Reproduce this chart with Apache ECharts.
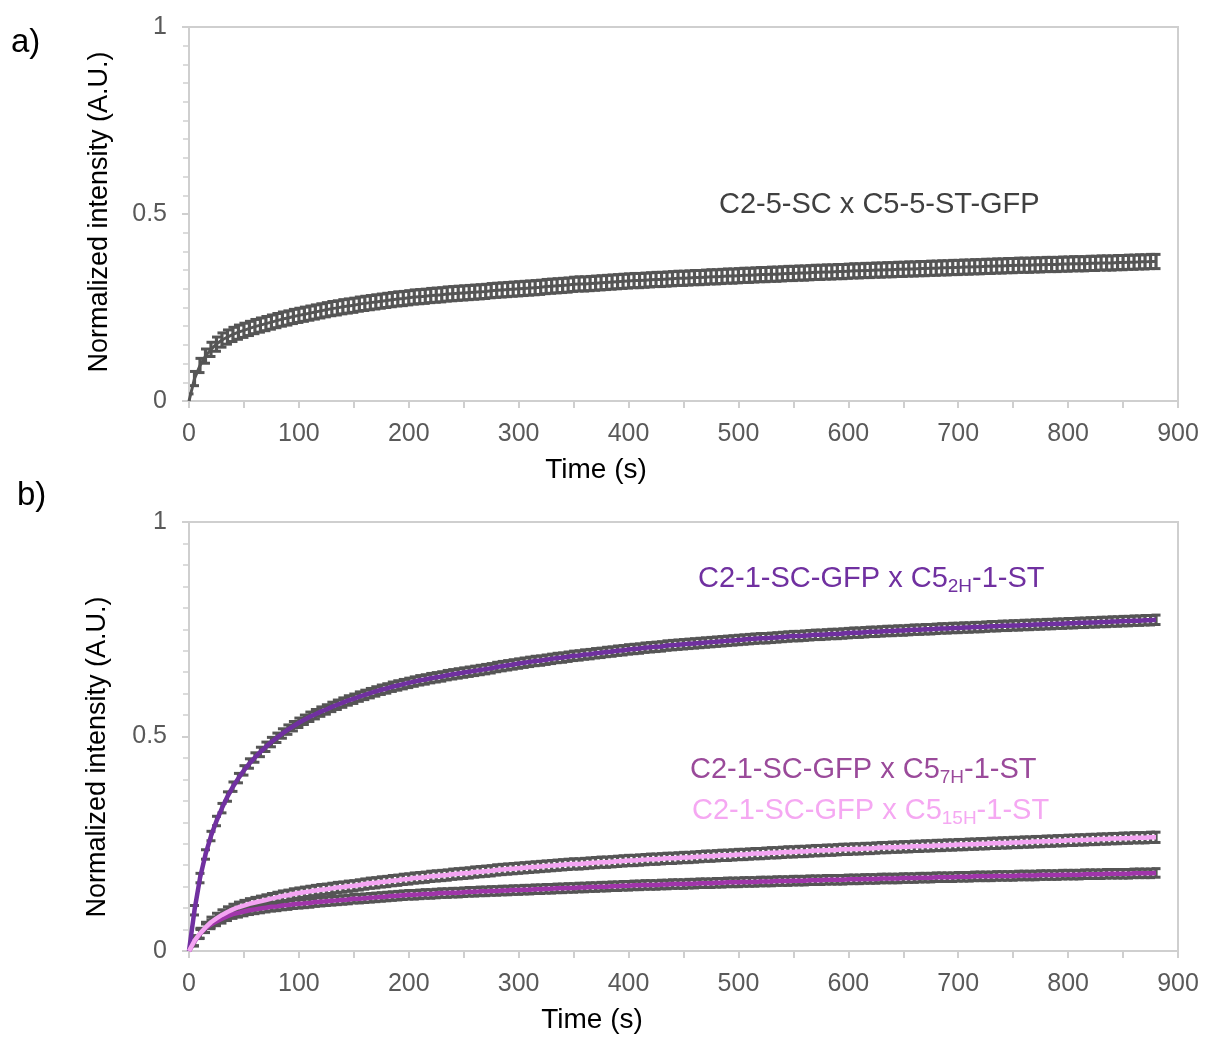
<!DOCTYPE html>
<html>
<head>
<meta charset="utf-8">
<script src="https://cdn.jsdelivr.net/npm/echarts@6/dist/echarts.min.js"></script>
<style>
html,body{margin:0;padding:0;background:#fff;}
#chart{width:1205px;height:1037px;}
</style>
</head>
<body>
<div id="chart"></div>
<script>
// Time points (s)
const timeS = [
  0,5,10,15,20,25,30,35,40,45,
  50,55,60,65,70,75,80,85,90,95,
  100,105,110,115,120,125,130,135,140,145,
  150,155,160,165,170,175,180,185,190,195,
  200,205,210,215,220,225,230,235,240,245,
  250,255,260,265,270,275,280,285,290,295,
  300,305,310,315,320,325,330,335,340,345,
  350,355,360,365,370,375,380,385,390,395,
  400,405,410,415,420,425,430,435,440,445,
  450,455,460,465,470,475,480,485,490,495,
  500,505,510,515,520,525,530,535,540,545,
  550,555,560,565,570,575,580,585,590,595,
  600,605,610,615,620,625,630,635,640,645,
  650,655,660,665,670,675,680,685,690,695,
  700,705,710,715,720,725,730,735,740,745,
  750,755,760,765,770,775,780,785,790,795,
  800,805,810,815,820,825,830,835,840,845,
  850,855,860,865,870,875,880
];

// a) C2-5-SC x C5-5-ST-GFP
const seriesA = [
  0,0.060,0.095,0.120,0.138,0.152,0.163,0.171,0.178,0.184,
  0.189,0.194,0.199,0.203,0.207,0.211,0.215,0.219,0.222,0.226,
  0.229,0.232,0.235,0.238,0.241,0.244,0.247,0.249,0.252,0.254,
  0.256,0.259,0.261,0.263,0.265,0.267,0.269,0.271,0.273,0.274,
  0.276,0.278,0.279,0.280,0.282,0.283,0.284,0.286,0.287,0.288,
  0.289,0.290,0.291,0.292,0.293,0.295,0.296,0.297,0.298,0.299,
  0.300,0.301,0.302,0.303,0.304,0.306,0.307,0.308,0.309,0.310,
  0.312,0.313,0.313,0.314,0.315,0.316,0.317,0.318,0.319,0.320,
  0.321,0.322,0.322,0.323,0.324,0.325,0.325,0.326,0.327,0.328,
  0.328,0.329,0.330,0.330,0.331,0.332,0.332,0.333,0.334,0.334,
  0.335,0.336,0.336,0.337,0.338,0.338,0.339,0.339,0.340,0.341,
  0.341,0.342,0.342,0.343,0.344,0.344,0.345,0.345,0.346,0.346,
  0.347,0.348,0.348,0.349,0.349,0.350,0.350,0.351,0.351,0.352,
  0.352,0.353,0.353,0.354,0.354,0.355,0.355,0.356,0.356,0.357,
  0.357,0.358,0.358,0.359,0.359,0.360,0.360,0.361,0.361,0.362,
  0.362,0.363,0.363,0.363,0.364,0.364,0.365,0.365,0.365,0.366,
  0.366,0.367,0.367,0.367,0.368,0.368,0.369,0.369,0.369,0.370,
  0.370,0.371,0.371,0.372,0.372,0.373,0.373
];
const errA = 0.019;

// b) C2-1-SC-GFP x C5_2H-1-ST
const series2H = [
  0,0.095,0.170,0.225,0.268,0.303,0.333,0.360,0.383,0.403,
  0.421,0.437,0.451,0.464,0.476,0.487,0.497,0.507,0.516,0.524,
  0.532,0.539,0.546,0.552,0.558,0.563,0.569,0.574,0.579,0.584,
  0.588,0.593,0.597,0.601,0.605,0.609,0.612,0.616,0.619,0.622,
  0.625,0.628,0.631,0.633,0.636,0.638,0.640,0.643,0.645,0.647,
  0.649,0.651,0.653,0.655,0.657,0.659,0.662,0.664,0.666,0.668,
  0.670,0.672,0.674,0.676,0.677,0.679,0.681,0.683,0.684,0.686,
  0.688,0.689,0.691,0.692,0.694,0.695,0.697,0.698,0.700,0.701,
  0.703,0.704,0.705,0.707,0.708,0.709,0.710,0.712,0.713,0.714,
  0.715,0.716,0.717,0.718,0.719,0.720,0.721,0.722,0.723,0.724,
  0.725,0.726,0.727,0.728,0.729,0.729,0.730,0.731,0.732,0.733,
  0.734,0.734,0.735,0.736,0.737,0.737,0.738,0.739,0.739,0.740,
  0.741,0.742,0.742,0.743,0.744,0.744,0.745,0.746,0.746,0.747,
  0.747,0.748,0.749,0.749,0.750,0.750,0.751,0.752,0.752,0.753,
  0.753,0.754,0.754,0.755,0.755,0.756,0.757,0.757,0.758,0.758,
  0.759,0.759,0.760,0.760,0.761,0.761,0.762,0.762,0.763,0.763,
  0.764,0.764,0.765,0.765,0.766,0.766,0.767,0.767,0.768,0.768,
  0.769,0.769,0.770,0.770,0.771,0.771,0.772
];
const err2H = 0.011;

// b) C2-1-SC-GFP x C5_7H-1-ST
const series7H = [
  0,0.022,0.040,0.053,0.062,0.069,0.075,0.081,0.086,0.089,
  0.092,0.095,0.097,0.099,0.101,0.103,0.104,0.106,0.107,0.109,
  0.110,0.111,0.112,0.114,0.115,0.116,0.117,0.118,0.119,0.120,
  0.122,0.122,0.123,0.124,0.125,0.126,0.127,0.128,0.129,0.130,
  0.131,0.131,0.132,0.133,0.133,0.134,0.135,0.135,0.136,0.136,
  0.137,0.138,0.138,0.139,0.139,0.140,0.140,0.141,0.141,0.142,
  0.142,0.143,0.143,0.144,0.144,0.145,0.145,0.146,0.146,0.147,
  0.147,0.148,0.148,0.149,0.149,0.150,0.150,0.151,0.151,0.152,
  0.152,0.153,0.153,0.154,0.154,0.154,0.155,0.155,0.156,0.156,
  0.156,0.157,0.157,0.158,0.158,0.158,0.159,0.159,0.160,0.160,
  0.160,0.161,0.161,0.161,0.162,0.162,0.162,0.163,0.163,0.163,
  0.164,0.164,0.164,0.165,0.165,0.165,0.166,0.166,0.166,0.166,
  0.167,0.167,0.167,0.168,0.168,0.168,0.169,0.169,0.169,0.169,
  0.170,0.170,0.170,0.171,0.171,0.171,0.172,0.172,0.172,0.172,
  0.173,0.173,0.173,0.174,0.174,0.174,0.174,0.175,0.175,0.175,
  0.175,0.176,0.176,0.176,0.176,0.177,0.177,0.177,0.177,0.178,
  0.178,0.178,0.178,0.179,0.179,0.179,0.179,0.180,0.180,0.180,
  0.180,0.180,0.181,0.181,0.181,0.181,0.182
];
const err7H = 0.010;

// b) C2-1-SC-GFP x C5_15H-1-ST
const series15H = [
  0,0.024,0.041,0.055,0.067,0.076,0.084,0.091,0.097,0.102,
  0.106,0.110,0.113,0.116,0.119,0.122,0.125,0.128,0.130,0.133,
  0.135,0.137,0.139,0.141,0.143,0.144,0.146,0.148,0.149,0.151,
  0.152,0.154,0.156,0.158,0.159,0.161,0.162,0.164,0.165,0.167,
  0.168,0.170,0.171,0.172,0.174,0.175,0.176,0.177,0.179,0.180,
  0.181,0.182,0.184,0.185,0.186,0.187,0.189,0.190,0.191,0.192,
  0.193,0.194,0.195,0.196,0.197,0.198,0.199,0.200,0.201,0.202,
  0.203,0.203,0.204,0.205,0.206,0.207,0.207,0.208,0.209,0.210,
  0.211,0.211,0.212,0.213,0.214,0.214,0.215,0.216,0.216,0.217,
  0.218,0.218,0.219,0.220,0.221,0.221,0.222,0.223,0.223,0.224,
  0.225,0.225,0.226,0.227,0.227,0.228,0.229,0.229,0.230,0.231,
  0.231,0.232,0.232,0.233,0.234,0.234,0.235,0.235,0.236,0.237,
  0.237,0.238,0.238,0.239,0.239,0.240,0.241,0.241,0.242,0.242,
  0.243,0.243,0.244,0.244,0.245,0.245,0.246,0.246,0.247,0.247,
  0.248,0.248,0.249,0.249,0.250,0.250,0.251,0.251,0.252,0.252,
  0.253,0.253,0.254,0.254,0.255,0.255,0.256,0.256,0.257,0.257,
  0.258,0.258,0.259,0.259,0.260,0.260,0.261,0.261,0.262,0.262,
  0.263,0.263,0.264,0.264,0.264,0.265,0.265
];
const err15H = 0.012;

const xTickMin = 0, xTickMax = 900, xTickStep = 100;
const yTickMin = 0, yTickMax = 1, yTickStep = 0.5;

const FONT = '"Liberation Sans", Arial, Helvetica, sans-serif';
const AXIS_GRAY = '#cfcfcf';
const LABEL_GRAY = '#595959';
const ERR_GRAY = '#555555';

function pairs(vals) { return timeS.map((t, i) => [t, vals[i]]); }
function triples(vals, e) { return timeS.map((t, i) => [t, vals[i], e]); }

function errRender(params, api) {
  const x = api.value(0), y = api.value(1), e = api.value(2);
  const hi = api.coord([x, y + e]);
  const lo = api.coord([x, y - e]);
  const hw = 4.5;
  const stem = { stroke: ERR_GRAY, lineWidth: 3.2 };
  const cap = { stroke: ERR_GRAY, lineWidth: 3 };
  return {
    type: 'group',
    children: [
      { type: 'line', shape: { x1: hi[0], y1: hi[1], x2: lo[0], y2: lo[1] }, style: stem },
      { type: 'line', shape: { x1: hi[0] - hw, y1: hi[1], x2: hi[0] + hw, y2: hi[1] }, style: cap },
      { type: 'line', shape: { x1: lo[0] - hw, y1: lo[1], x2: lo[0] + hw, y2: lo[1] }, style: cap }
    ]
  };
}

function xAxisCfg(gi) {
  return {
    type: 'value', gridIndex: gi, min: xTickMin, max: xTickMax, interval: xTickStep,
    axisLine: { show: true, lineStyle: { color: AXIS_GRAY, width: 2 } },
    axisTick: { show: true, inside: false, length: 7, lineStyle: { color: AXIS_GRAY, width: 2 } },
    minorTick: { show: true, splitNumber: 2, length: 7, lineStyle: { color: AXIS_GRAY, width: 2 } },
    axisLabel: { color: LABEL_GRAY, fontSize: 25, fontFamily: FONT, margin: 21 },
    splitLine: { show: false }
  };
}
function yAxisCfg(gi) {
  return {
    type: 'value', gridIndex: gi, min: yTickMin, max: yTickMax, interval: yTickStep,
    axisLine: { show: true, lineStyle: { color: AXIS_GRAY, width: 2 } },
    axisTick: { show: true, inside: false, length: 7, lineStyle: { color: AXIS_GRAY, width: 2 } },
    minorTick: { show: true, splitNumber: 10, length: 6, lineStyle: { color: AXIS_GRAY, width: 1.5 } },
    axisLabel: { color: LABEL_GRAY, fontSize: 25, fontFamily: FONT, margin: 22 },
    splitLine: { show: false }
  };
}

function richLabel(pre, sub, post, color, left, y) {
  return {
    type: 'text', left: left, top: y - 18, z: 100,
    style: {
      text: '{m|' + pre + '}{s|' + sub + '}{m|' + post + '}',
      fill: color,
      rich: {
        m: { fontSize: 29, fontFamily: FONT, fill: color, color: color, lineHeight: 36, verticalAlign: 'middle' },
        s: { fontSize: 19, fontFamily: FONT, fill: color, color: color, lineHeight: 20, verticalAlign: 'bottom' }
      }
    }
  };
}

const chart = echarts.init(document.getElementById('chart'), null, { renderer: 'canvas' });
chart.setOption({
  animation: false,
  backgroundColor: '#ffffff',
  textStyle: { fontFamily: FONT },
  grid: [
    { left: 189, top: 27, width: 989, height: 374, show: true, borderColor: AXIS_GRAY, borderWidth: 2, backgroundColor: 'transparent' },
    { left: 189, top: 522, width: 989, height: 429, show: true, borderColor: AXIS_GRAY, borderWidth: 2, backgroundColor: 'transparent' }
  ],
  xAxis: [xAxisCfg(0), xAxisCfg(1)],
  yAxis: [yAxisCfg(0), yAxisCfg(1)],
  series: [
    { type: 'custom', xAxisIndex: 0, yAxisIndex: 0, renderItem: errRender, data: triples(seriesA, errA), encode: { x: 0, y: 1 }, z: 2, clip: true },
    { type: 'line', xAxisIndex: 0, yAxisIndex: 0, data: pairs(seriesA), showSymbol: false, lineStyle: { color: ERR_GRAY, width: 3 }, z: 3 },

    { type: 'custom', xAxisIndex: 1, yAxisIndex: 1, renderItem: errRender, data: triples(series2H, err2H), encode: { x: 0, y: 1 }, z: 2, clip: true },
    { type: 'custom', xAxisIndex: 1, yAxisIndex: 1, renderItem: errRender, data: triples(series7H, err7H), encode: { x: 0, y: 1 }, z: 2, clip: true },
    { type: 'custom', xAxisIndex: 1, yAxisIndex: 1, renderItem: errRender, data: triples(series15H, err15H), encode: { x: 0, y: 1 }, z: 2, clip: true },
    { type: 'line', xAxisIndex: 1, yAxisIndex: 1, data: pairs(series2H), showSymbol: false, lineStyle: { color: '#7030a0', width: 4.5 }, z: 4 },
    { type: 'line', xAxisIndex: 1, yAxisIndex: 1, data: pairs(series7H), showSymbol: false, lineStyle: { color: '#a035aa', width: 4.5 }, z: 4 },
    { type: 'line', xAxisIndex: 1, yAxisIndex: 1, data: pairs(series15H), showSymbol: false, lineStyle: { color: '#f4a4f2', width: 4.5 }, z: 5 }
  ],
  graphic: [
    { type: 'text', left: 11, top: 26, style: { text: 'a)', fill: '#000', font: '33px ' + FONT } },
    { type: 'text', left: 17, top: 479, style: { text: 'b)', fill: '#000', font: '33px ' + FONT } },
    { type: 'text', x: 100, y: 212, rotation: Math.PI / 2,
      style: { text: 'Normalized intensity (A.U.)', fill: '#000', font: '27px ' + FONT, x: 0, y: 0, align: 'center', verticalAlign: 'middle', textAlign: 'center', textVerticalAlign: 'middle' } },
    { type: 'text', x: 98, y: 757, rotation: Math.PI / 2,
      style: { text: 'Normalized intensity (A.U.)', fill: '#000', font: '27px ' + FONT, x: 0, y: 0, align: 'center', verticalAlign: 'middle', textAlign: 'center', textVerticalAlign: 'middle' } },
    { type: 'text', x: 596, y: 470,
      style: { text: 'Time (s)', fill: '#000', font: '28px ' + FONT, x: 0, y: 0, align: 'center', verticalAlign: 'middle', textAlign: 'center', textVerticalAlign: 'middle' } },
    { type: 'text', x: 592, y: 1020,
      style: { text: 'Time (s)', fill: '#000', font: '28px ' + FONT, x: 0, y: 0, align: 'center', verticalAlign: 'middle', textAlign: 'center', textVerticalAlign: 'middle' } },
    { type: 'text', left: 719, top: 190,
      style: { text: 'C2-5-SC x C5-5-ST-GFP', fill: '#404040', font: '29px ' + FONT } },
    richLabel('C2-1-SC-GFP x C5', '2H', '-1-ST', '#7030a0', 698, 582),
    richLabel('C2-1-SC-GFP x C5', '7H', '-1-ST', '#9a4a9a', 690, 773),
    richLabel('C2-1-SC-GFP x C5', '15H', '-1-ST', '#f5a8f2', 692, 814)
  ]
});
</script>
</body>
</html>
